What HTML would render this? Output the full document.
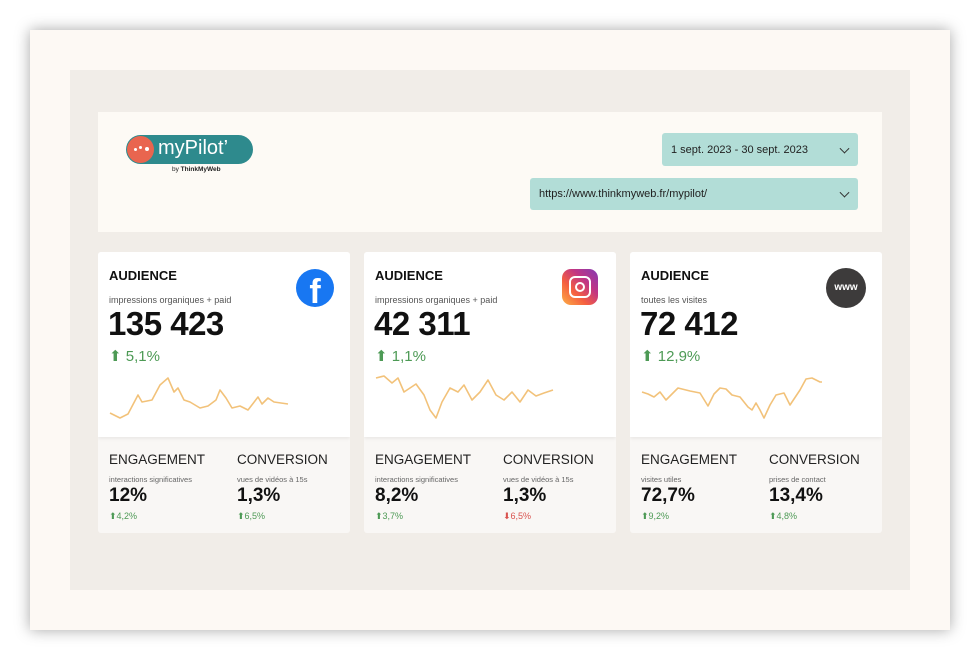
<!DOCTYPE html>
<html><head><meta charset="utf-8"><style>
*{margin:0;padding:0;box-sizing:border-box}
body{width:980px;height:660px;background:#fff;font-family:"Liberation Sans","DejaVu Sans",sans-serif;position:relative;overflow:hidden}
.frame{position:absolute;left:30px;top:30px;width:920px;height:600px;background:#fdf9f4;box-shadow:0 0 14px rgba(0,0,0,.35)}
.panel{position:absolute;left:70px;top:70px;width:840px;height:520px;background:#f1ede8}
.head{position:absolute;left:98px;top:112px;width:784px;height:120px;background:#fdfaf5}
.dd{position:absolute;background:#b2ddd7;border-radius:3px;font-size:11px;color:#222;padding-left:9px;display:flex;align-items:center}
.dd span.c{position:absolute;right:10px;top:50%;width:7px;height:7px;border-right:1.6px solid #333;border-bottom:1.6px solid #333;transform:translateY(-70%) rotate(45deg)}
.card{position:absolute;top:252px;width:252px;height:281px;background:#f9f7f5;border-radius:3px;overflow:hidden}
.top{position:absolute;left:0;top:0;width:252px;height:185px;background:#fff;box-shadow:0 2px 3px rgba(0,0,0,.06)}
.t{position:absolute;left:11px;font-size:13px;font-weight:bold;color:#111;top:16px}
.sub{position:absolute;left:11px;top:43px;font-size:9px;color:#555}
.big{position:absolute;left:10px;top:53px;font-size:33px;font-weight:bold;color:#111;letter-spacing:-0.5px}
.pct{position:absolute;left:11px;top:95px;font-size:15px;color:#4d9a55}
.bt{position:absolute;font-size:13.5px;color:#222;top:200px}
.bs{position:absolute;font-size:7.5px;color:#666;top:223px}
.bv{position:absolute;font-size:19px;font-weight:bold;color:#111;top:233px}
.bp{position:absolute;font-size:9px;color:#4d9a55;top:259px}
svg.sp{position:absolute;left:0;top:0}
</style></head><body>
<div class="frame"></div>
<div class="panel"></div>
<div class="head">
  <div style="position:absolute;left:28px;top:23px;width:127px;height:29px;border-radius:15px;background:#2e8a8d"></div>
  <div style="position:absolute;left:29px;top:24px;width:27px;height:27px;border-radius:50%;background:#e9654f"></div>
  <div style="position:absolute;left:36px;top:36px;width:3px;height:3px;border-radius:50%;background:#fff"></div>
  <div style="position:absolute;left:41px;top:34px;width:3px;height:3px;border-radius:50%;background:#fff"></div>
  <div style="position:absolute;left:47px;top:35px;width:4px;height:4px;border-radius:50%;background:#fff"></div>
  <div style="position:absolute;left:60px;top:25px;font-size:20px;color:#fff">myPilot’</div>
  <div style="position:absolute;left:74px;top:54px;font-size:6.5px;color:#222">by <b>ThinkMyWeb</b></div>
</div>
<div class="dd" style="left:662px;top:133px;width:196px;height:33px">1 sept. 2023 - 30 sept. 2023<span class="c"></span></div>
<div class="dd" style="left:530px;top:178px;width:328px;height:32px">https://www.thinkmyweb.fr/mypilot/<span class="c"></span></div>

<div class="card" style="left:98px">
 <div class="top">
  <div class="t">AUDIENCE</div><div class="sub">impressions organiques + paid</div>
  <div class="big">135 423</div><div class="pct">⬆ 5,1%</div>
  <div style="position:absolute;left:198px;top:17px;width:38px;height:38px;border-radius:50%;background:#1877f2;color:#fff;font-weight:bold;font-size:34px;text-align:center;line-height:46px;overflow:hidden">f</div>
  <svg class="sp" width="252" height="185"><polyline fill="none" stroke="#f2c27a" stroke-width="1.6" stroke-linejoin="round" points="12,161 22,166 30,162 40,143 44,150 54,148 62,133 70,126 76,140 80,136 86,148 92,150 102,156 110,154 118,148 122,138 128,146 134,156 142,154 150,158 160,145 164,152 170,146 176,150 190,152"/></svg>
 </div>
 <div class="bt" style="left:11px">ENGAGEMENT</div><div class="bs" style="left:11px">interactions significatives</div><div class="bv" style="left:11px">12%</div><div class="bp" style="left:11px">⬆4,2%</div>
 <div class="bt" style="left:139px">CONVERSION</div><div class="bs" style="left:139px">vues de vidéos à 15s</div><div class="bv" style="left:139px">1,3%</div><div class="bp" style="left:139px">⬆6,5%</div>
</div>

<div class="card" style="left:364px">
 <div class="top">
  <div class="t">AUDIENCE</div><div class="sub">impressions organiques + paid</div>
  <div class="big">42 311</div><div class="pct">⬆ 1,1%</div>
  <div style="position:absolute;left:198px;top:17px;width:36px;height:36px;border-radius:9px;background:linear-gradient(45deg,#fcaf45,#f56040 35%,#c13584 65%,#833ab4)"></div>
  <div style="position:absolute;left:205px;top:24px;width:22px;height:22px;border-radius:6px;border:2.5px solid #fff"></div>
  <div style="position:absolute;left:211px;top:30px;width:10px;height:10px;border-radius:50%;border:2.5px solid #fff"></div>
  <svg class="sp" width="252" height="185"><polyline fill="none" stroke="#f2c27a" stroke-width="1.6" stroke-linejoin="round" points="12,126 20,124 28,131 34,126 40,140 46,136 52,132 60,143 66,158 72,166 78,150 86,136 94,140 100,133 108,148 116,140 124,128 132,143 140,148 148,140 156,150 164,138 172,144 180,141 189,138"/></svg>
 </div>
 <div class="bt" style="left:11px">ENGAGEMENT</div><div class="bs" style="left:11px">interactions significatives</div><div class="bv" style="left:11px">8,2%</div><div class="bp" style="left:11px">⬆3,7%</div>
 <div class="bt" style="left:139px">CONVERSION</div><div class="bs" style="left:139px">vues de vidéos à 15s</div><div class="bv" style="left:139px">1,3%</div><div class="bp" style="left:139px;color:#d9534f">⬇6,5%</div>
</div>

<div class="card" style="left:630px">
 <div class="top">
  <div class="t">AUDIENCE</div><div class="sub">toutes les visites</div>
  <div class="big">72 412</div><div class="pct">⬆ 12,9%</div>
  <div style="position:absolute;left:196px;top:16px;width:40px;height:40px;border-radius:50%;background:#3d3b3b;color:#fff;font-weight:bold;font-size:10px;text-align:center;line-height:40px">www</div>
  <svg class="sp" width="252" height="185"><polyline fill="none" stroke="#f2c27a" stroke-width="1.6" stroke-linejoin="round" points="12,140 18,142 24,145 30,140 36,148 48,136 60,139 70,141 78,154 84,142 90,136 96,137 102,143 110,145 118,155 122,158 126,151 130,158 134,166 140,153 146,143 154,141 160,153 170,138 176,127 182,126 190,130 192,130"/></svg>
 </div>
 <div class="bt" style="left:11px">ENGAGEMENT</div><div class="bs" style="left:11px">visites utiles</div><div class="bv" style="left:11px">72,7%</div><div class="bp" style="left:11px">⬆9,2%</div>
 <div class="bt" style="left:139px">CONVERSION</div><div class="bs" style="left:139px">prises de contact</div><div class="bv" style="left:139px">13,4%</div><div class="bp" style="left:139px">⬆4,8%</div>
</div>
</body></html>
